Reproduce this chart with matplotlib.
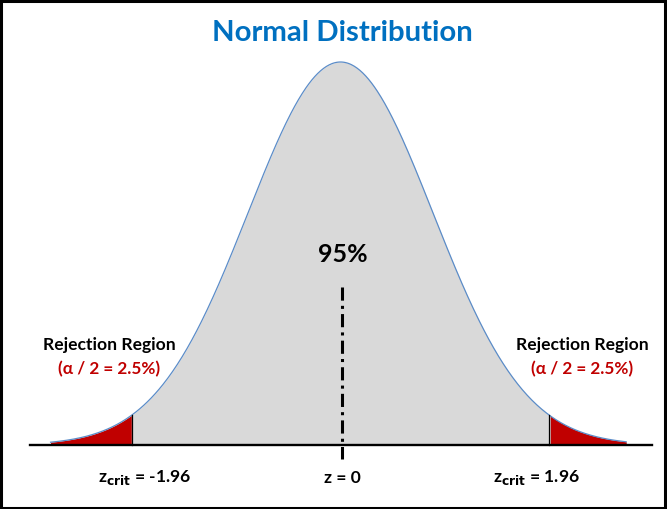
import numpy as np
import matplotlib
matplotlib.use("Agg")
import matplotlib.pyplot as plt
from matplotlib.patches import Rectangle

plt.rcParams['font.family'] = ['Lato', 'DejaVu Sans']

# values
z_crit = 1.96
sigma = 0.867          # spread of the drawn curve (in z units)
alpha_half = "2.5%"
center_label = "95%"
title = "Normal Distribution"

W, H = 667, 510
px_per_z = 106.6       # horizontal scale
center_px = 340.5
base_px = 446          # baseline, from top
peak_px = 63

z = np.linspace(-2.72, 2.68, 600)
pdf = np.exp(-0.5 * (z / sigma) ** 2) / (sigma * np.sqrt(2 * np.pi))
peak = pdf.max()
px_per_y = (base_px - peak_px) / peak

fig = plt.figure(figsize=(W / 100, H / 100), dpi=100)
ax = fig.add_axes([0, 0, 1, 1])
ax.set_xlim(-center_px / px_per_z, (W - center_px) / px_per_z)
ax.set_ylim(-(H - base_px) / px_per_y, base_px / px_per_y)
ax.axis('off')

# body and tails
ax.fill_between(z, 0, pdf, color='#d9d9d9', lw=0, zorder=1)
left = z <= -z_crit
right = z >= z_crit
ax.fill_between(z[left], 0, pdf[left], color='#c00000', lw=0, zorder=2)
ax.fill_between(z[right], 0, pdf[right], color='#c00000', lw=0, zorder=2)
ax.plot(z, pdf, color='#5b8cc8', lw=0.9, zorder=3)

# critical lines
hc = np.exp(-0.5 * (z_crit / sigma) ** 2) / (sigma * np.sqrt(2 * np.pi))
ax.plot([-z_crit, -z_crit], [0, hc], color='black', lw=0.9, zorder=4)
ax.plot([z_crit, z_crit], [0, hc], color='black', lw=0.9, zorder=4)

# baseline
ax.plot([(30 - center_px) / px_per_z, (652 - center_px) / px_per_z], [0, 0],
        color='black', lw=1.7, zorder=5)

# centre dash-dot line
ax.plot([0.01, 0.01], [(base_px - 288) / px_per_y, -(460 - base_px) / px_per_y],
        color='black', lw=2.2, linestyle=(0, (4.3, 1.7, 1.0, 1.7)), zorder=5)


def put(xp, yp, s, **kw):
    fig.text(xp / W, 1 - yp / H, s, ha='center', va='center', **kw)


put(342, 33, title, color='#0070c0', fontsize=21.2, fontweight='bold')
put(343, 254, center_label, color='black', fontsize=18, fontweight='bold')

for xc in (109, 582):
    put(xc, 345, "Rejection Region", color='black', fontsize=12.6, fontweight='bold')
    put(xc, 369, "(α / 2 = " + alpha_half + ")", color='#c00000', fontsize=12.3,
        fontweight='bold')

put(145, 478, r"z$_{\mathbf{crit}}$ = -%.2f" % z_crit, color='black', fontsize=12.6,
    fontweight='bold')
put(536, 478, r"z$_{\mathbf{crit}}$ = %.2f" % z_crit, color='black', fontsize=12.6,
    fontweight='bold')
put(342, 478, "z = 0", color='black', fontsize=12.6, fontweight='bold')

# outer frame
fig.patches.append(Rectangle((0.0015, 0.002), 0.996, 0.995, transform=fig.transFigure,
                             fill=False, edgecolor='black', lw=2.2))

fig.savefig('out.png', dpi=100)
